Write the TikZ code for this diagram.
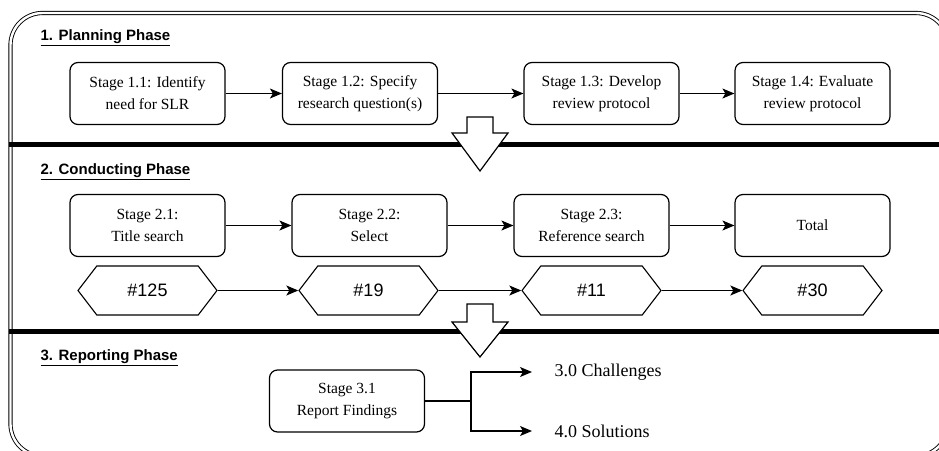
\documentclass[tikz,border=0pt]{standalone}
\usepackage{fontspec}
\setmainfont{Liberation Serif}
\setsansfont{Liberation Sans}
\usetikzlibrary{arrows.meta,shapes.symbols,positioning}

\begin{document}
\begin{tikzpicture}[x=1pt,y=-1pt,
  stagebox/.style={draw, rounded corners=8pt, line width=1.2pt, minimum width=155pt, minimum height=62pt, align=center, font=\fontsize{15.5}{22}\selectfont},
  countbox/.style={draw, shape=signal, signal to=east and west, signal pointer angle=105, minimum width=139pt, minimum height=49pt, inner xsep=2pt, line width=1.1pt, font=\sffamily\fontsize{18}{20}\selectfont},
  phase/.style={anchor=west, font=\sffamily\bfseries\fontsize{15}{18}\selectfont},
  flow/.style={-{Stealth[length=12pt,width=10pt,inset=3pt]}, line width=1.2pt},
  bar/.style={line width=5pt},
  bigarrow/.style={draw, fill=white, line width=1.2pt, line join=miter}]
\clip (0,0) rectangle (939,450);
% frame and phase bars
\draw [double, line width=0.9pt, double distance=2.4pt, rounded corners=32pt] (10.5,13) rectangle (948,456);
\draw [bar] (9,144) -- (948,144);
\draw [bar] (9,331) -- (948,331);
\node [phase] (p1) at (37,38) {\underline{1. Planning Phase}};
\node [phase] (p2) at (37,172) {\underline{2. Conducting Phase}};
\node [phase] (p3) at (37,358) {\underline{3. Reporting Phase}};
% planning
\node [stagebox] (s11) at (147.5,93.5) {Stage 1.1: Identify\\need for SLR};
\node [stagebox] (s12) at (360,93.5) {Stage 1.2: Specify\\research question(s)};
\node [stagebox] (s13) at (601.5,93.5) {Stage 1.3: Develop\\review protocol};
\node [stagebox] (s14) at (812.5,93.5) {Stage 1.4: Evaluate\\review protocol};
\draw [flow] (s11) -- (s12);
\draw [flow] (s12) -- (s13);
\draw [flow] (s13) -- (s14);
% conducting
\node [stagebox] (s21) at (147.5,225.5) {Stage 2.1:\\Title search};
\node [stagebox] (s22) at (369.5,225.5) {Stage 2.2:\\Select};
\node [stagebox] (s23) at (591.5,225.5) {Stage 2.3:\\Reference search};
\node [stagebox] (tot) at (812.5,225.5) {Total};
\draw [flow] (s21) -- (s22);
\draw [flow] (s22) -- (s23);
\draw [flow] (s23) -- (tot);
\node [countbox] (n1) at (147.5,290.5) {\#125};
\node [countbox] (n2) at (368.5,290.5) {\#19};
\node [countbox] (n3) at (591.5,290.5) {\#11};
\node [countbox] (n4) at (812.5,290.5) {\#30};
\draw [flow] (n1.east) -- (n2.west);
\draw [flow] (n2.east) -- (n3.west);
\draw [flow] (n3.east) -- (n4.west);
% reporting
\node [stagebox] (s31) at (347,401) {Stage 3.1\\Report Findings};
\node [anchor=west, font=\fontsize{18}{20}\selectfont] (ch) at (551,372) {3.0 Challenges};
\node [anchor=west, font=\fontsize{18}{20}\selectfont] (so) at (551,431) {4.0 Solutions};
\coordinate (jn) at (471,401);
\draw [line width=1.2pt] (s31) -- (jn);
\draw [flow, shorten >=19pt] (jn) |- (ch.west);
\draw [flow, shorten >=19pt] (jn) |- (so.west);
% block arrows between phases
\draw [bigarrow] (467,117) -- (493,117) -- (493,133) -- (508,133) -- (480,171) -- (452,133) -- (467,133) -- cycle;
\draw [bigarrow] (467,304) -- (493,304) -- (493,322) -- (508,322) -- (480,357) -- (452,322) -- (467,322) -- cycle;
\end{tikzpicture}
\end{document}
